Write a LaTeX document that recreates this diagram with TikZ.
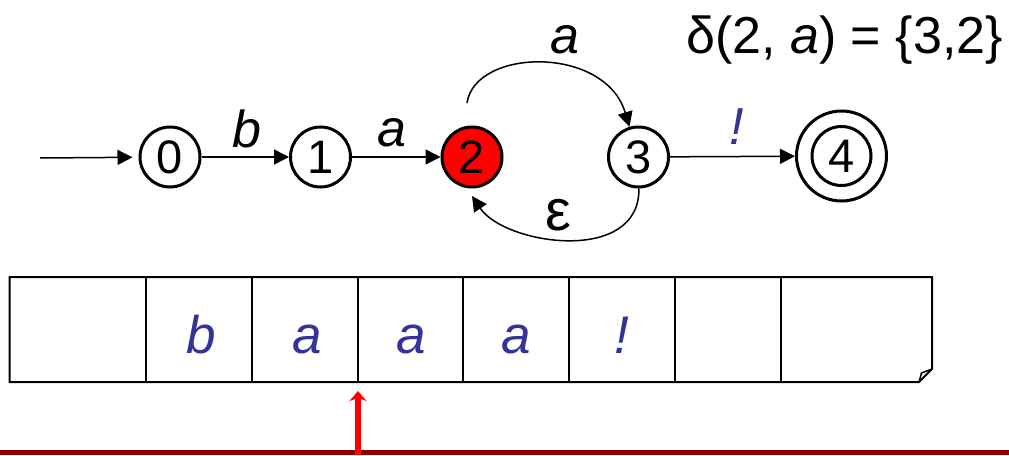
\documentclass[tikz,border=0pt]{standalone}
\usepackage{fontspec}
\setmainfont{Liberation Sans}
\usetikzlibrary{arrows.meta}
\definecolor{symblue}{RGB}{51,51,153}
\definecolor{barred}{RGB}{136,0,0}
\tikzset{
  state/.style={circle, draw, line width=3pt, minimum size=60pt, inner sep=0pt,
    font=\fontsize{47}{47}\selectfont},
  edge/.style={line width=1.5pt, -{Triangle[length=15pt,width=15pt]}},
  elabel/.style={inner sep=0pt, anchor=base, font=\fontsize{52}{52}\selectfont\itshape},
  tapesym/.style={inner sep=0pt, anchor=base, text=symblue, font=\fontsize{53}{53}\selectfont\itshape},
  tapeline/.style={line width=2pt, line join=miter},
  head/.style={draw=red, line width=6pt, -{Stealth[length=10pt,width=17pt,inset=3pt]}}
}
\begin{document}
\begin{tikzpicture}[x=1pt,y=-1pt]
\useasboundingbox (0,0) rectangle (1009,455);

% automaton states
\node[state] (n0) at (170,157) {0};
\node[state] (n1) at (320.5,157) {1};
\node[state, fill=red] (n2) at (472,157) {2};
\node[state] (n3) at (638.5,157) {3};
\node[state, minimum size=90pt] (n4) at (841.5,156) {};
\node[state, minimum size=59pt] (n4in) at (n4) {4};

% transitions
\coordinate (init) at (40,158);
\coordinate (aloop) at (467,103);
\coordinate (epsend) at (472,196);
\draw[edge, shorten >=6pt] (init) -- (n0);
\draw[edge] (n0) -- (n1);
\draw[edge] (n1) -- (n2);
\draw[edge] (n3) -- (n4);
\draw[edge] (aloop) .. controls (475,48) and (605,45) .. (n3);
\draw[edge] (n3) .. controls (640,265) and (505,245) .. (epsend);

% transition labels
\node[elabel] (lb) at (247,147) {b};
\node[elabel] (la) at (392,146) {a};
\node[elabel] (laa) at (565,53) {a};
\node[elabel, font=\fontsize{58}{58}\selectfont] (leps) at (558,230) {ε};
\node[elabel, text=symblue] (lex) at (737,144) {!};
\node[inner sep=0pt, font=\fontsize{52}{52}\selectfont, anchor=base east] (delta) at (1003,53)
  {δ(2, \textit{a}) = \{3,2\}};

% bottom bar and tape
\fill[barred] (0,450) rectangle (1009,455);
\draw[tapeline] (9.5,277) -- (932,277) -- (932,369) -- (919,382) -- (9.5,382) -- cycle;
\draw[tapeline, line width=1.5pt] (919,382) -- (921.5,373) -- (932,369);
\foreach \x in {146,252,358,463,569,675,781}
  \draw[tapeline] (\x,277) -- (\x,382);
\node[tapesym] (t1) at (201,353) {b};
\node[tapesym] (t2) at (307,353) {a};
\node[tapesym] (t3) at (411,353) {a};
\node[tapesym] (t4) at (516,353) {a};
\node[tapesym] (t5) at (622,353) {!};

% reading head
\coordinate (headfoot) at (358,455);
\coordinate (headtip) at (358,391);
\draw[head] (headfoot) -- (headtip);
\end{tikzpicture}
\end{document}
